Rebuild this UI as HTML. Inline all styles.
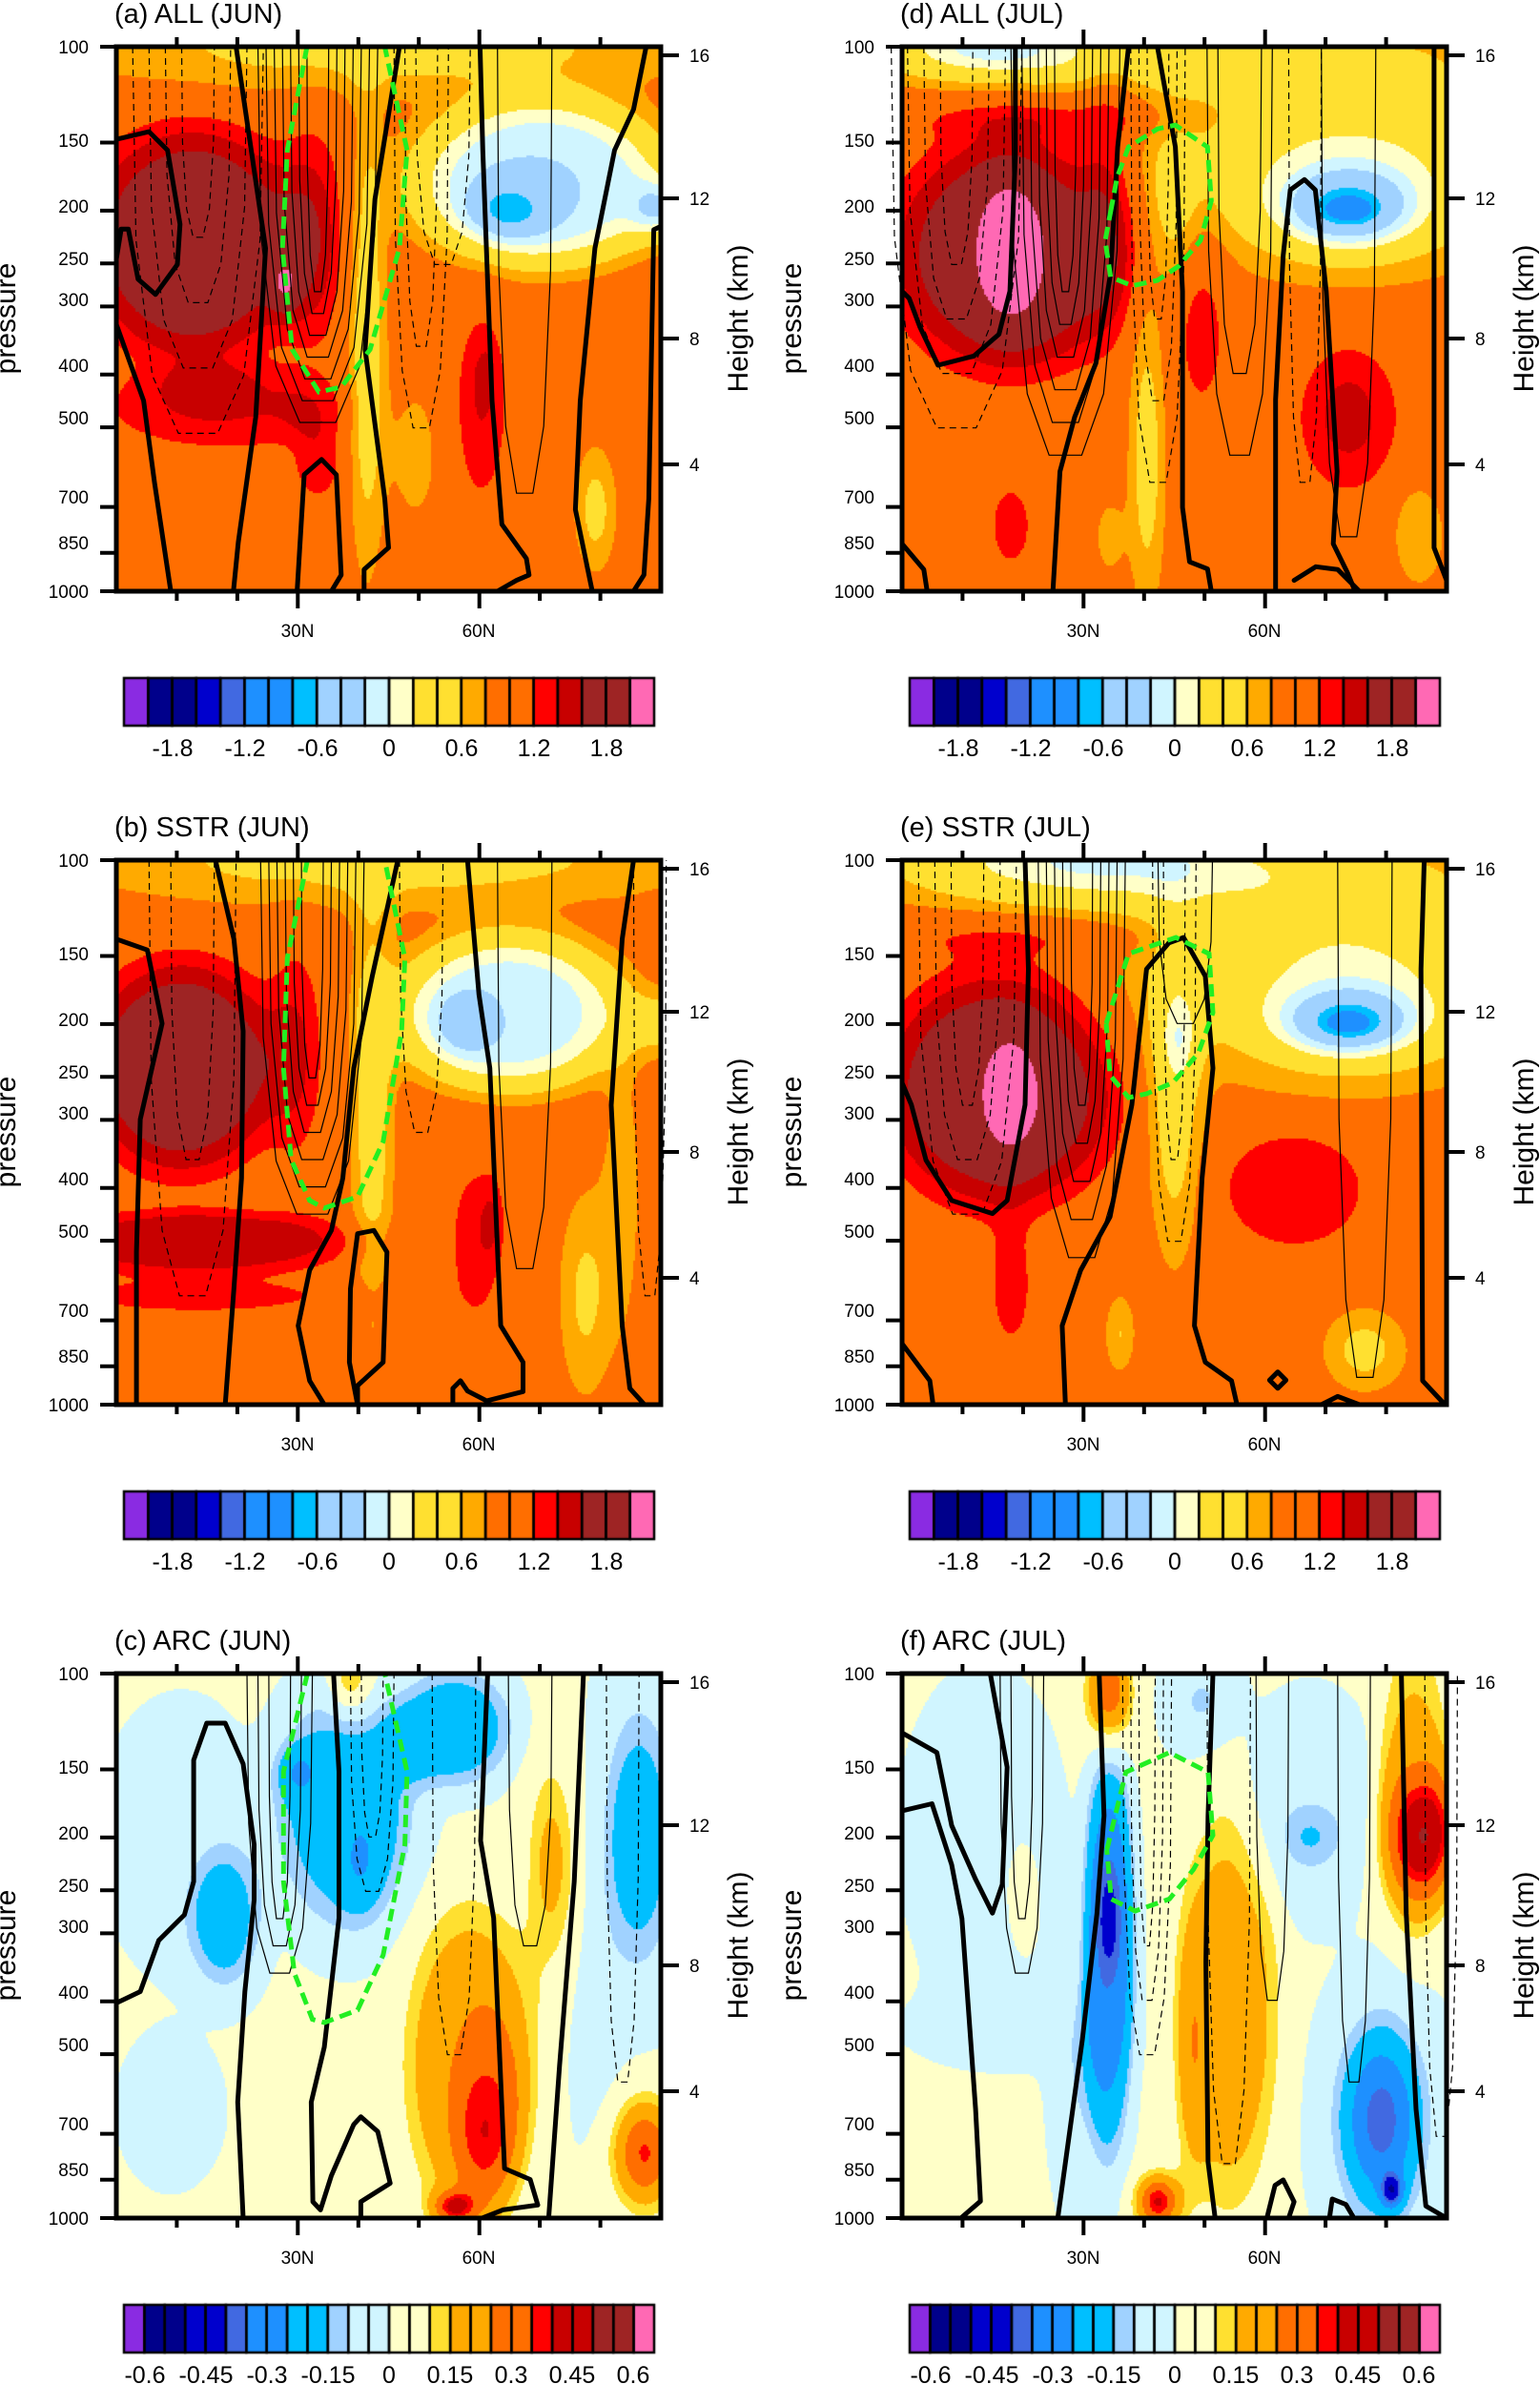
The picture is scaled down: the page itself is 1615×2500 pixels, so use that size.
<!DOCTYPE html>
<html><head><meta charset="utf-8">
<style>
html,body{margin:0;padding:0;background:#fff;}
#wrap{position:relative;width:1615px;height:2500px;overflow:hidden;}
canvas,svg{position:absolute;left:0;top:0;}
text{font-family:"Liberation Sans",sans-serif;fill:#000;}
</style></head>
<body><div id="wrap">
<canvas id="cv" width="1615" height="2500"></canvas>
<svg id="sv" width="1615" height="2500" viewBox="0 0 1615 2500">
<g id="lines"></g>
<g id="axes"></g>
<g font-size="29">
<text x="120" y="24">(a) ALL (JUN)</text>
<text x="944" y="24">(d) ALL (JUL)</text>
<text x="120" y="877">(b) SSTR (JUN)</text>
<text x="944" y="877">(e) SSTR (JUL)</text>
<text x="120" y="1730">(c) ARC (JUN)</text>
<text x="944" y="1730">(f) ARC (JUL)</text>
</g>
<g font-size="30">
<text transform="translate(16,334) rotate(-90)" text-anchor="middle">pressure</text>
<text transform="translate(840,334) rotate(-90)" text-anchor="middle">pressure</text>
<text transform="translate(16,1187) rotate(-90)" text-anchor="middle">pressure</text>
<text transform="translate(840,1187) rotate(-90)" text-anchor="middle">pressure</text>
<text transform="translate(16,2040) rotate(-90)" text-anchor="middle">pressure</text>
<text transform="translate(840,2040) rotate(-90)" text-anchor="middle">pressure</text>
<text transform="translate(784,334) rotate(-90)" text-anchor="middle">Height (km)</text>
<text transform="translate(1608,334) rotate(-90)" text-anchor="middle">Height (km)</text>
<text transform="translate(784,1187) rotate(-90)" text-anchor="middle">Height (km)</text>
<text transform="translate(1608,1187) rotate(-90)" text-anchor="middle">Height (km)</text>
<text transform="translate(784,2040) rotate(-90)" text-anchor="middle">Height (km)</text>
<text transform="translate(1608,2040) rotate(-90)" text-anchor="middle">Height (km)</text>
</g>
<g font-size="19" text-anchor="end">
<text x="93" y="56">100</text><text x="93" y="154">150</text><text x="93" y="223">200</text><text x="93" y="278">250</text><text x="93" y="321">300</text><text x="93" y="390">400</text><text x="93" y="445">500</text><text x="93" y="528">700</text><text x="93" y="576">850</text><text x="93" y="627">1000</text>
<text x="917" y="56">100</text><text x="917" y="154">150</text><text x="917" y="223">200</text><text x="917" y="278">250</text><text x="917" y="321">300</text><text x="917" y="390">400</text><text x="917" y="445">500</text><text x="917" y="528">700</text><text x="917" y="576">850</text><text x="917" y="627">1000</text>
<text x="93" y="909">100</text><text x="93" y="1007">150</text><text x="93" y="1076">200</text><text x="93" y="1131">250</text><text x="93" y="1174">300</text><text x="93" y="1243">400</text><text x="93" y="1298">500</text><text x="93" y="1381">700</text><text x="93" y="1429">850</text><text x="93" y="1480">1000</text>
<text x="917" y="909">100</text><text x="917" y="1007">150</text><text x="917" y="1076">200</text><text x="917" y="1131">250</text><text x="917" y="1174">300</text><text x="917" y="1243">400</text><text x="917" y="1298">500</text><text x="917" y="1381">700</text><text x="917" y="1429">850</text><text x="917" y="1480">1000</text>
<text x="93" y="1762">100</text><text x="93" y="1860">150</text><text x="93" y="1929">200</text><text x="93" y="1984">250</text><text x="93" y="2027">300</text><text x="93" y="2096">400</text><text x="93" y="2151">500</text><text x="93" y="2234">700</text><text x="93" y="2282">850</text><text x="93" y="2333">1000</text>
<text x="917" y="1762">100</text><text x="917" y="1860">150</text><text x="917" y="1929">200</text><text x="917" y="1984">250</text><text x="917" y="2027">300</text><text x="917" y="2096">400</text><text x="917" y="2151">500</text><text x="917" y="2234">700</text><text x="917" y="2282">850</text><text x="917" y="2333">1000</text>
</g>
<g font-size="19">
<text x="723" y="65">16</text><text x="723" y="215">12</text><text x="723" y="362">8</text><text x="723" y="494">4</text>
<text x="1547" y="65">16</text><text x="1547" y="215">12</text><text x="1547" y="362">8</text><text x="1547" y="494">4</text>
<text x="723" y="918">16</text><text x="723" y="1068">12</text><text x="723" y="1215">8</text><text x="723" y="1347">4</text>
<text x="1547" y="918">16</text><text x="1547" y="1068">12</text><text x="1547" y="1215">8</text><text x="1547" y="1347">4</text>
<text x="723" y="1771">16</text><text x="723" y="1921">12</text><text x="723" y="2068">8</text><text x="723" y="2200">4</text>
<text x="1547" y="1771">16</text><text x="1547" y="1921">12</text><text x="1547" y="2068">8</text><text x="1547" y="2200">4</text>
</g>
<g font-size="19" text-anchor="middle">
<text x="312" y="668">30N</text><text x="502" y="668">60N</text>
<text x="1136" y="668">30N</text><text x="1326" y="668">60N</text>
<text x="312" y="1521">30N</text><text x="502" y="1521">60N</text>
<text x="1136" y="1521">30N</text><text x="1326" y="1521">60N</text>
<text x="312" y="2374">30N</text><text x="502" y="2374">60N</text>
<text x="1136" y="2374">30N</text><text x="1326" y="2374">60N</text>
</g>
<g font-size="25" text-anchor="middle">
<text x="181" y="793">-1.8</text><text x="257" y="793">-1.2</text><text x="333" y="793">-0.6</text><text x="408" y="793">0</text><text x="484" y="793">0.6</text><text x="560" y="793">1.2</text><text x="636" y="793">1.8</text>
<text x="1005" y="793">-1.8</text><text x="1081" y="793">-1.2</text><text x="1157" y="793">-0.6</text><text x="1232" y="793">0</text><text x="1308" y="793">0.6</text><text x="1384" y="793">1.2</text><text x="1460" y="793">1.8</text>
<text x="181" y="1646">-1.8</text><text x="257" y="1646">-1.2</text><text x="333" y="1646">-0.6</text><text x="408" y="1646">0</text><text x="484" y="1646">0.6</text><text x="560" y="1646">1.2</text><text x="636" y="1646">1.8</text>
<text x="1005" y="1646">-1.8</text><text x="1081" y="1646">-1.2</text><text x="1157" y="1646">-0.6</text><text x="1232" y="1646">0</text><text x="1308" y="1646">0.6</text><text x="1384" y="1646">1.2</text><text x="1460" y="1646">1.8</text>
<text x="152" y="2499">-0.6</text><text x="216" y="2499">-0.45</text><text x="280" y="2499">-0.3</text><text x="344" y="2499">-0.15</text><text x="408" y="2499">0</text><text x="472" y="2499">0.15</text><text x="536" y="2499">0.3</text><text x="600" y="2499">0.45</text><text x="664" y="2499">0.6</text>
<text x="976" y="2499">-0.6</text><text x="1040" y="2499">-0.45</text><text x="1104" y="2499">-0.3</text><text x="1168" y="2499">-0.15</text><text x="1232" y="2499">0</text><text x="1296" y="2499">0.15</text><text x="1360" y="2499">0.3</text><text x="1424" y="2499">0.45</text><text x="1488" y="2499">0.6</text>
</g>
</svg>
</div>
<script>
(function(){
var S=571, X=[122,946], Y=[49,902,1755];
var C22=['#8a2be2','#00008b','#00008b','#0000cd','#4169e1','#1e90ff','#1e90ff','#00bfff','#a0d2ff','#a0d2ff','#d0f5ff','#ffffc8','#ffe030','#ffe030','#ffaa00','#ff6e00','#ff6e00','#ff0000','#c80000','#9e2424','#9e2424','#ff69b4'];
var C26=['#8a2be2','#00008b','#00008b','#0000cd','#0000cd','#4169e1','#1e90ff','#1e90ff','#00bfff','#00bfff','#a0d2ff','#d0f5ff','#d0f5ff','#ffffc8','#ffffc8','#ffe030','#ffaa00','#ffaa00','#ff6e00','#ff6e00','#ff0000','#c80000','#c80000','#9e2424','#9e2424','#ff69b4'];
function col22(v){var i=Math.floor(v/0.2)+11;return C22[Math.max(0,Math.min(21,i))];}
function col26(v){var i=Math.floor(v/0.05)+13;return C26[Math.max(0,Math.min(25,i))];}
var P={
a:{base:1.0,big:1,b:[[0.5,0.0,0.6,0.09,-0.55],[0.14,0.36,0.2,0.22,0.85,2],[0.31,0.44,0.03,0.05,0.45],[0.2,0.66,0.22,0.08,0.4,2],[0.37,0.76,0.05,0.08,0.35],[0.36,0.35,0.06,0.2,0.5],[0.46,0.55,0.035,0.4,-0.65],[0.78,0.25,0.25,0.16,-1.2,2],[0.72,0.3,0.07,0.05,-0.6],[1.0,0.3,0.05,0.05,-0.7],[0.67,0.66,0.05,0.18,0.4],[0.68,0.6,0.02,0.05,0.2],[0.88,0.85,0.04,0.12,-0.5],[0.55,0.75,0.05,0.15,-0.3]]},
b:{base:1.0,big:1,b:[[0.5,0.0,0.6,0.09,-0.55],[0.12,0.38,0.18,0.2,0.85,2],[0.15,0.7,0.3,0.06,0.55,2],[0.15,0.8,0.3,0.04,0.3],[0.33,0.35,0.05,0.2,0.4],[0.47,0.45,0.04,0.4,-0.6],[0.72,0.28,0.22,0.15,-1.15,2],[0.64,0.3,0.05,0.05,-0.45],[1.0,0.3,0.05,0.06,-0.5],[0.66,0.7,0.05,0.15,0.35],[0.69,0.66,0.02,0.07,0.25],[0.86,0.8,0.05,0.2,-0.45],[0.93,0.6,0.04,0.3,-0.3]]},
c:{base:0.01,big:0,b:[[0.12,0.3,0.15,0.25,-0.04,2],[0.2,0.45,0.08,0.15,-0.15,2],[0.2,0.47,0.03,0.06,-0.08],[0.42,0.25,0.14,0.24,-0.2,2],[0.33,0.18,0.04,0.05,-0.12],[0.45,0.35,0.04,0.1,-0.08],[0.43,0.02,0.04,0.06,0.2],[0.62,0.1,0.12,0.12,-0.2,2],[0.65,0.72,0.13,0.32,0.2,2],[0.68,0.8,0.07,0.2,0.1,2],[0.68,0.85,0.05,0.12,0.1],[0.62,0.98,0.04,0.03,0.3],[0.8,0.35,0.05,0.2,0.17],[0.96,0.3,0.07,0.25,-0.25],[0.97,0.88,0.06,0.1,0.35],[0.88,0.65,0.05,0.25,-0.05],[0.1,0.8,0.1,0.15,-0.03]]},
d:{base:1.0,big:1,b:[[0.15,0.0,0.2,0.06,-0.8],[0.5,0.02,0.5,0.07,-0.5],[0.25,0.13,0.25,0.04,0.3],[0.2,0.38,0.22,0.22,0.85,2],[0.2,0.37,0.06,0.13,0.5],[0.38,0.25,0.05,0.25,0.35],[0.45,0.75,0.035,0.3,-0.55],[0.38,0.9,0.03,0.08,-0.3],[0.5,0.3,0.04,0.15,-0.3],[0.82,0.22,0.35,0.18,-0.85],[0.82,0.3,0.12,0.07,-1.1],[0.82,0.3,0.04,0.02,-0.4],[0.55,0.5,0.05,0.18,0.35],[0.82,0.68,0.1,0.15,0.35,2],[0.82,0.68,0.04,0.06,0.2],[0.2,0.88,0.04,0.08,0.35],[0.95,0.9,0.05,0.1,-0.4]]},
e:{base:1.0,big:1,b:[[0.3,0.0,0.35,0.08,-0.7],[0.55,0.02,0.5,0.1,-0.4],[0.22,0.14,0.25,0.04,0.3],[0.18,0.42,0.22,0.22,0.85,2],[0.2,0.43,0.05,0.1,0.45],[0.5,0.45,0.05,0.3,-0.55],[0.51,0.33,0.03,0.07,-0.3],[0.4,0.87,0.03,0.08,-0.4],[0.82,0.22,0.35,0.18,-0.85],[0.82,0.3,0.12,0.06,-1.1],[0.82,0.3,0.04,0.02,-0.3],[0.72,0.6,0.14,0.12,0.35,2],[0.2,0.78,0.04,0.12,0.35],[0.85,0.9,0.08,0.08,-0.5]]},
f:{base:0.01,big:0,b:[[0.15,0.3,0.15,0.3,-0.04,2],[0.2,0.65,0.2,0.08,-0.03],[0.22,0.4,0.03,0.1,0.06],[0.38,0.5,0.05,0.4,-0.3,2],[0.38,0.45,0.025,0.12,-0.15],[0.32,0.75,0.04,0.2,-0.1],[0.38,0.04,0.04,0.1,0.35],[0.47,0.97,0.04,0.05,0.4],[0.6,0.62,0.1,0.4,0.18,2],[0.53,0.7,0.03,0.25,0.1],[0.75,0.25,0.12,0.2,-0.09,2],[0.75,0.3,0.05,0.05,-0.08],[0.96,0.3,0.07,0.12,0.35],[0.94,0.2,0.07,0.3,0.15,2],[0.88,0.82,0.08,0.18,-0.4],[0.9,0.95,0.02,0.03,-0.3],[0.55,0.05,0.06,0.08,-0.12]]}
};
var pos={a:[0,0],b:[0,1],c:[0,2],d:[1,0],e:[1,1],f:[1,2]};
var cv=document.getElementById('cv'),ctx=cv.getContext('2d');
ctx.fillStyle='#fff';ctx.fillRect(0,0,1615,2500);
var st=2;
for(var k in P){var p=P[k],x0=X[pos[k][0]],y0=Y[pos[k][1]];
 for(var j=0;j<S;j+=st){for(var i=0;i<S;i+=st){
  var u=(i+1)/S,w=(j+1)/S,v=p.base;
  for(var n=0;n<p.b.length;n++){var q=p.b[n],du=(u-q[0])/q[2],dv=(w-q[1])/q[3],r=du*du+dv*dv;if(q[5])r=Math.pow(r,q[5]);v+=q[4]*Math.exp(-r);}
  ctx.fillStyle=p.big?col22(v):col26(v);ctx.fillRect(x0+i,y0+j,st,st);}}
 var cols=p.big?C22:C26,n=cols.length,cx=x0+8,cw=(556)/n,cy=y0+662;
 for(var m=0;m<n;m++){ctx.fillStyle=cols[m];ctx.fillRect(cx+m*cw,cy,cw,50);}
 ctx.strokeStyle='#000';ctx.lineWidth=2.5;
 for(var m=0;m<n;m++){ctx.strokeRect(cx+m*cw,cy,cw,50);}
}
var NS='http://www.w3.org/2000/svg',LG=document.getElementById('lines'),AX=document.getElementById('axes');
function path(g,d,attrs){var e=document.createElementNS(NS,'path');e.setAttribute('d',d);e.setAttribute('fill','none');for(var a in attrs)e.setAttribute(a,attrs[a]);g.appendChild(e);}
function toD(k,pts,close){var x0=X[pos[k][0]],y0=Y[pos[k][1]],s='';
 for(var i=0;i<pts.length;i++){s+=(i?'L':'M')+(x0+pts[i][0]*S).toFixed(1)+' '+(y0+pts[i][1]*S).toFixed(1);} return s+(close?'Z':'');}
var thick={
a:[[[0.22,0],[0.274,0.37],[0.256,0.68],[0.224,0.91],[0.215,1]],
 [[0,0.17],[0.06,0.156],[0.094,0.19],[0.117,0.326],[0.112,0.4],[0.072,0.455],[0.04,0.427],[0.022,0.335],[0.009,0.335],[0,0.39]],
 [[0,0.51],[0.05,0.65],[0.07,0.8],[0.1,1]],
 [[0.52,0],[0.475,0.28],[0.457,0.556],[0.493,0.83],[0.5,0.92],[0.455,0.96],[0.455,1]],
 [[0.332,1],[0.345,0.786],[0.377,0.758],[0.404,0.786],[0.413,0.97],[0.395,1]],
 [[0.668,0],[0.673,0.19],[0.69,0.65],[0.708,0.877],[0.753,0.94],[0.758,0.97],[0.735,0.98],[0.7,1]],
 [[0.973,0],[0.95,0.115],[0.915,0.19],[0.879,0.37],[0.852,0.65],[0.843,0.85],[0.874,1]],
 [[1,0.33],[0.987,0.336],[0.978,0.83],[0.969,0.97],[0.95,1]]],
b:[[[0.182,0],[0.216,0.145],[0.233,0.314],[0.23,0.584],[0.216,0.787],[0.2,1]],
 [[0,0.145],[0.057,0.165],[0.084,0.3],[0.044,0.476],[0.037,0.72],[0.037,1]],
 [[0.517,0],[0.47,0.213],[0.436,0.382],[0.416,0.584],[0.395,0.68],[0.355,0.753],[0.334,0.855],[0.355,0.956],[0.382,1]],
 [[0.443,1],[0.443,0.965],[0.49,0.922],[0.497,0.72],[0.473,0.68],[0.443,0.686],[0.43,0.787],[0.428,0.922],[0.443,1]],
 [[0.645,0],[0.666,0.247],[0.686,0.382],[0.706,0.855],[0.747,0.922],[0.747,0.976],[0.68,0.993],[0.645,0.975],[0.632,0.956],[0.618,0.97],[0.618,1]],
 [[0.95,0],[0.929,0.145],[0.909,0.45],[0.929,0.855],[0.943,0.97],[0.97,1]]],
c:[[[0,0.605],[0.044,0.584],[0.078,0.49],[0.125,0.443],[0.142,0.382],[0.142,0.159],[0.166,0.091],[0.2,0.091],[0.233,0.166],[0.253,0.314],[0.253,0.416],[0.236,0.584],[0.223,0.787],[0.233,1]],
 [[0.399,0],[0.409,0.18],[0.409,0.449],[0.382,0.686],[0.358,0.787],[0.361,0.97],[0.375,0.985],[0.395,0.922],[0.436,0.828],[0.449,0.814],[0.48,0.841],[0.503,0.936],[0.449,0.97],[0.449,1]],
 [[0.682,0],[0.669,0.307],[0.693,0.449],[0.713,0.909],[0.76,0.929],[0.774,0.976],[0.71,0.985],[0.672,1]],
 [[0.858,0],[0.841,0.382],[0.814,0.72],[0.794,1]]],
d:[[[0.208,0],[0.208,0.2],[0.198,0.449],[0.178,0.528],[0.132,0.568],[0.066,0.585],[0.033,0.515],[0.013,0.462],[0,0.449]],
 [[0.416,0],[0.396,0.184],[0.383,0.416],[0.356,0.581],[0.317,0.68],[0.29,0.78],[0.277,1]],
 [[0.469,0],[0.502,0.184],[0.515,0.449],[0.515,0.846],[0.528,0.946],[0.561,0.959],[0.568,1]],
 [[0.686,1],[0.686,0.648],[0.7,0.383],[0.713,0.263],[0.739,0.244],[0.759,0.263],[0.779,0.449],[0.799,0.78],[0.792,0.913],[0.818,0.966],[0.832,1]],
 [[0.977,0],[0.977,0.92],[1,0.98]],
 [[0,0.913],[0.04,0.96],[0.046,1]],
 [[0.72,0.98],[0.76,0.955],[0.8,0.96],[0.84,1]]],
e:[[[0.226,0],[0.232,0.2],[0.226,0.449],[0.193,0.625],[0.166,0.649],[0.091,0.625],[0.044,0.551],[0.017,0.449],[0,0.409]],
 [[0.3,1],[0.294,0.855],[0.328,0.753],[0.382,0.655],[0.422,0.449],[0.449,0.2],[0.49,0.152],[0.517,0.142],[0.557,0.213],[0.571,0.382],[0.551,0.584],[0.537,0.855],[0.557,0.922],[0.605,0.956],[0.615,1]],
 [[0.959,0],[0.953,0.2],[0.956,0.956],[0.997,1]],
 [[0,0.888],[0.051,0.956],[0.057,1]],
 [[0.77,1],[0.8,0.985],[0.84,1]],
 [[0.675,0.955],[0.69,0.94],[0.705,0.955],[0.69,0.97],[0.675,0.955]]],
f:[[[0,0.109],[0.064,0.145],[0.091,0.279],[0.135,0.378],[0.166,0.44],[0.184,0.387],[0.193,0.172],[0.162,0]],
 [[0,0.252],[0.055,0.239],[0.091,0.351],[0.11,0.45],[0.135,0.8],[0.144,0.969],[0.108,1]],
 [[0.362,0],[0.371,0.261],[0.358,0.44],[0.331,0.673],[0.286,1]],
 [[0.571,0],[0.562,0.261],[0.558,0.53],[0.562,0.897],[0.575,1]],
 [[0.917,0],[0.926,0.44],[0.944,0.8],[0.962,0.978],[1,1]],
 [[0.67,1],[0.685,0.94],[0.7,0.93],[0.72,0.97],[0.71,1]],
 [[0.785,1],[0.79,0.965],[0.815,0.975],[0.83,1]]]
};
var green={
a:[[0.35,0],[0.314,0.19],[0.305,0.37],[0.323,0.556],[0.372,0.634],[0.413,0.625],[0.466,0.556],[0.52,0.37],[0.534,0.19],[0.493,0]],
b:[[0.351,0],[0.314,0.18],[0.307,0.382],[0.321,0.55],[0.355,0.625],[0.382,0.639],[0.443,0.618],[0.49,0.517],[0.524,0.314],[0.53,0.18],[0.493,0]],
c:[[0.351,0],[0.307,0.18],[0.307,0.382],[0.327,0.55],[0.36,0.635],[0.382,0.641],[0.443,0.618],[0.49,0.517],[0.53,0.314],[0.534,0.18],[0.493,0]],
d:[[0.383,0.303],[0.395,0.24],[0.416,0.184],[0.469,0.151],[0.502,0.144],[0.561,0.184],[0.568,0.283],[0.548,0.356],[0.508,0.403],[0.469,0.429],[0.423,0.439],[0.383,0.423],[0.373,0.356],[0.383,0.303]],
e:[[0.375,0.3],[0.416,0.172],[0.503,0.142],[0.564,0.172],[0.571,0.28],[0.544,0.355],[0.497,0.409],[0.449,0.429],[0.416,0.436],[0.382,0.395],[0.375,0.3]],
f:[[0.376,0.324],[0.411,0.181],[0.491,0.145],[0.562,0.181],[0.571,0.297],[0.535,0.36],[0.491,0.414],[0.428,0.436],[0.384,0.414],[0.376,0.324]]
};
var tongues={
a:[[0.37,[0.02,0.035,0.05,0.065,0.08,0.095,0.11],0.45,0.04,0],[0.15,[0.03,0.06,0.09,0.12],0.35,0.12,1],[0.75,[0.05],0.82,0,0],[0.56,[0.03,0.05],0.55,0.15,1],[0.6,[0.05],0.4,0,1]],
b:[[0.36,[0.02,0.035,0.05,0.065,0.08,0.095],0.4,0.05,0],[0.14,[0.04,0.08],0.55,0.25,1],[0.75,[0.05],0.75,0,0],[0.56,[0.04],0.5,0,1],[0.98,[0.03],0.8,0,1]],
c:[[0.3,[0.02,0.04,0.06],0.45,0.05,0],[0.47,[0.02,0.04],0.3,0.1,1],[0.62,[0.04],0.7,0,1],[0.76,[0.04],0.5,0,0],[0.93,[0.03],0.75,0,1]],
d:[[0.3,[0.02,0.035,0.05,0.065,0.08,0.1],0.45,0.06,0],[0.1,[0.03,0.06,0.09,0.12],0.4,0.1,1],[0.47,[0.02,0.035,0.05],0.5,0.15,1],[0.62,[0.04,0.06],0.6,0.15,0],[0.82,[0.05],0.9,0,0],[0.74,[0.03],0.8,0,1]],
e:[[0.33,[0.02,0.035,0.05,0.065,0.08],0.45,0.07,0],[0.12,[0.03,0.06,0.09],0.45,0.1,1],[0.5,[0.02,0.04],0.55,0.15,1],[0.52,[0.05],0.3,0,0],[0.85,[0.05],0.95,0,0]],
f:[[0.22,[0.02,0.04],0.45,0.1,0],[0.45,[0.015,0.03,0.045],0.5,0.1,1],[0.6,[0.04],0.9,0,1],[0.68,[0.03],0.6,0,0],[0.83,[0.03],0.75,0,0],[0.99,[0.03],0.85,0,1]]
};
for(var k in thick){
 var tg=tongues[k];
 for(var t=0;t<tg.length;t++){var c=tg[t][0],ws=tg[t][1];
  for(var m=0;m<ws.length;m++){var w=ws[m],dp=Math.min(0.97,tg[t][2]+m*tg[t][3]);
   var pts=[[c-w,0],[c-w*0.95,dp*0.5],[c-w*0.7,dp*0.85],[c-w*0.3,dp],[c+w*0.3,dp],[c+w*0.7,dp*0.85],[c+w*0.95,dp*0.5],[c+w,0]];
   var at={stroke:'#000','stroke-width':1.2};if(tg[t][4])at['stroke-dasharray']='7 5';
   path(LG,toD(k,pts,false),at);}}
 var th=thick[k];for(var i=0;i<th.length;i++)path(LG,toD(k,th[i],false),{stroke:'#000','stroke-width':5,'stroke-linejoin':'round','stroke-linecap':'round'});
 path(LG,toD(k,green[k],false),{stroke:'#22ee22','stroke-width':5,'stroke-dasharray':'13 7'});
}
var pl=[100,150,200,250,300,400,500,700,850,1000],hk=[9,159,306,438];
for(var k in pos){var x0=X[pos[k][0]],y0=Y[pos[k][1]],d='';
 for(var i=0;i<pl.length;i++){var y=y0+Math.log(pl[i]/100)/Math.log(10)*S;d+='M'+(x0-17)+' '+y.toFixed(1)+'H'+x0;}
 for(var i=0;i<hk.length;i++){d+='M'+(x0+S)+' '+(y0+hk[i])+'h19';}
 for(var l=10;l<90;l+=10){var x=x0+l/90*S,L=(l==30||l==60)?18:10;d+='M'+x.toFixed(1)+' '+y0+'v'+(-L)+'M'+x.toFixed(1)+' '+(y0+S)+'v'+L;}
 path(AX,d,{stroke:'#000','stroke-width':4});
 var r=document.createElementNS(NS,'rect');r.setAttribute('x',x0);r.setAttribute('y',y0);r.setAttribute('width',S);r.setAttribute('height',S);r.setAttribute('fill','none');r.setAttribute('stroke','#000');r.setAttribute('stroke-width',5);AX.appendChild(r);
}
})();
</script>
</body></html>
